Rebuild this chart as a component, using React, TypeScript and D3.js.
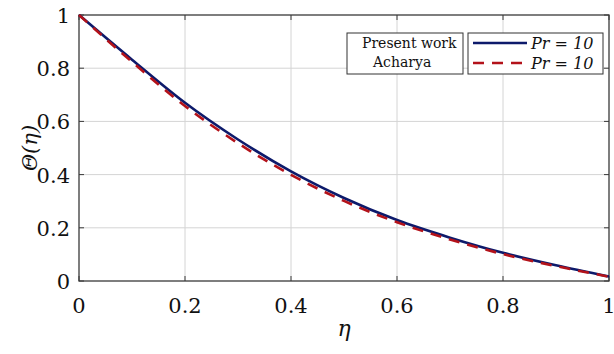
import React from "react";
import * as d3 from "d3";

const etaValues = [0, 0.1, 0.2, 0.3, 0.4, 0.5, 0.6, 0.7, 0.8, 0.9, 1.0];
const presentWork = [1, 0.832, 0.67, 0.532, 0.412, 0.312, 0.229, 0.163, 0.106, 0.059, 0.017];
const acharya = [1, 0.824, 0.658, 0.518, 0.399, 0.301, 0.221, 0.156, 0.101, 0.056, 0.016];
const xTicks = [0, 0.2, 0.4, 0.6, 0.8, 1];
const yTicks = [0, 0.2, 0.4, 0.6, 0.8, 1];
const xTickLabels = ["0", "0.2", "0.4", "0.6", "0.8", "1"];
const yTickLabels = ["0", "0.2", "0.4", "0.6", "0.8", "1"];
const legendNames = ["Present work", "Acharya"];
const legendSeries = ["Pr = 10", "Pr = 10"];

const W = 614;
const H = 354;
const m = { left: 79, right: 5, top: 15, bottom: 73 };

export default function App() {
  const x = d3.scaleLinear().domain([0, 1]).range([m.left, W - m.right]);
  const y = d3.scaleLinear().domain([0, 1]).range([H - m.bottom, m.top]);
  const line = (vals: number[]) =>
    d3
      .line<number>()
      .x((_, i) => x(etaValues[i]))
      .y((d) => y(d))
      .curve(d3.curveMonotoneX)(vals) || "";

  const serif = { fontFamily: "DejaVu Serif, Liberation Serif, serif" };
  const x0 = x(0), x1 = x(1), y0 = y(0), y1 = y(1);
  const axisColor = "#3a3a3a";
  const tickLen = 5;

  return (
    <svg width={W} height={H} style={{ position: "absolute", left: 0, top: 0, background: "#fff" }}>
      <rect x={0} y={0} width={W} height={H} fill="#fff" />
      {xTicks.slice(1, -1).map((t) => (
        <line key={"gx" + t} x1={x(t)} x2={x(t)} y1={y0} y2={y1} stroke="#d4d4d4" strokeWidth={1} />
      ))}
      {yTicks.slice(1, -1).map((t) => (
        <line key={"gy" + t} x1={x0} x2={x1} y1={y(t)} y2={y(t)} stroke="#d4d4d4" strokeWidth={1} />
      ))}
      {xTicks.map((t) => (
        <g key={"tx" + t}>
          <line x1={x(t)} x2={x(t)} y1={y0} y2={y0 - tickLen} stroke={axisColor} />
          <line x1={x(t)} x2={x(t)} y1={y1} y2={y1 + tickLen} stroke={axisColor} />
        </g>
      ))}
      {yTicks.map((t) => (
        <g key={"ty" + t}>
          <line x1={x0} x2={x0 + tickLen} y1={y(t)} y2={y(t)} stroke={axisColor} />
          <line x1={x1} x2={x1 - tickLen} y1={y(t)} y2={y(t)} stroke={axisColor} />
        </g>
      ))}
      <rect x={x0} y={y1} width={x1 - x0} height={y0 - y1} fill="none" stroke={axisColor} strokeWidth={1.3} />
      <path d={line(presentWork)} fill="none" stroke="#0d1a6b" strokeWidth={2.6} />
      <path d={line(acharya)} fill="none" stroke="#b3121a" strokeWidth={2.6} strokeDasharray="11 8" />
      {xTicks.map((t, i) => (
        <text key={"lx" + t} x={x(t)} y={y0 + 32} textAnchor="middle" style={serif} fontSize={21} fill="#111">
          {xTickLabels[i]}
        </text>
      ))}
      {yTicks.map((t, i) => (
        <text key={"ly" + t} x={x0 - 9} y={y(t) + 8} textAnchor="end" style={serif} fontSize={21} fill="#111">
          {yTickLabels[i]}
        </text>
      ))}
      <text x={(x0 + x1) / 2} y={H - 18} textAnchor="middle" style={serif} fontStyle="italic" fontSize={22} fill="#111">
        η
      </text>
      <text
        transform={`translate(37, ${(y0 + y1) / 2}) rotate(-90)`}
        textAnchor="middle"
        style={serif}
        fontStyle="italic"
        fontSize={21}
        fill="#111"
      >
        Θ(η)
      </text>
      <rect x={347} y={33} width={116} height={41} fill="#fff" stroke="#333" strokeWidth={1} />
      <text x={362} y={48} style={serif} fontSize={14} fill="#111">{legendNames[0]}</text>
      <text x={373} y={67} style={serif} fontSize={14} fill="#111">{legendNames[1]}</text>
      <rect x={468} y={33} width={135} height={41} fill="#fff" stroke="#333" strokeWidth={1} />
      <line x1={473} x2={527} y1={43} y2={43} stroke="#0d1a6b" strokeWidth={2.6} />
      <line x1={473} x2={527} y1={63} y2={63} stroke="#b3121a" strokeWidth={2.6} strokeDasharray="11 8" />
      <text x={531} y={49} style={serif} fontStyle="italic" fontSize={16} fill="#111">{legendSeries[0]}</text>
      <text x={531} y={69} style={serif} fontStyle="italic" fontSize={16} fill="#111">{legendSeries[1]}</text>
    </svg>
  );
}
